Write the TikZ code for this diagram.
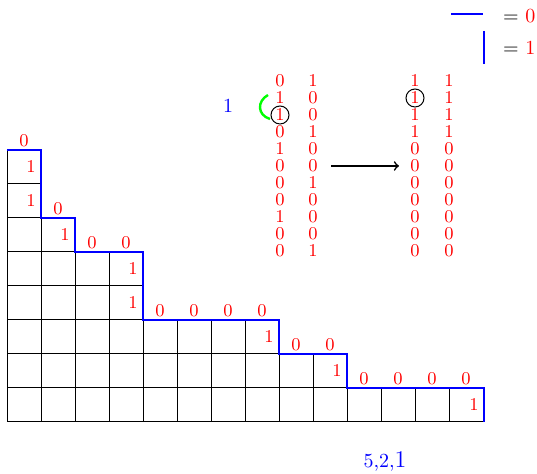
\documentclass[tikz,border=0pt]{standalone}
\begin{document}
\begin{tikzpicture}[x=0.5pt,y=-0.5pt,
  bit/.style={text=red,inner sep=0pt,font=\small},
  stair/.style={blue,line width=1.2pt},
  cell/.style={black,line width=0.5pt},
  ring/.style={black,line width=0.5pt}]
\useasboundingbox (0,0) rectangle (537,474);
% grid
\foreach \c/\h in {0/8,1/6,2/5,3/5,4/3,5/3,6/3,7/3,8/2,9/2,10/1,11/1,12/1,13/1}{
  \foreach \r in {1,...,\h}{
    \draw[cell] ({7+34*\c},{422-34*\r}) rectangle ++(34,34);
  }
}
% staircase path
\draw[stair] (7,150) -| (41,218) -| (75,252) -| (143,320) -| (279,354) -| (347,388) -| (484,422);
% zero labels on horizontal steps
\foreach \x/\y [count=\i] in {24/150,58/218,92/252,126/252,160/320,194/320,228/320,262/320,296/354,330/354,364/388,398/388,432/388,466/388}
  \node[bit,anchor=south] (z\i) at (\x,{\y-3}) {0};
% one labels on vertical steps
\foreach \x/\y [count=\i] in {41/167,41/201,75/235,143/269,143/303,279/337,347/371,484/405}
  \node[bit,anchor=east] (o\i) at ({\x-5},\y) {1};
% columns of bits
\foreach \v [count=\i from 0] in {0,1,1,0,1,0,0,0,1,0,0}
  \node[bit] (a\i) at (280,{81+17*\i}) {\v};
\foreach \v [count=\i from 0] in {1,0,0,1,0,0,1,0,0,0,1}
  \node[bit] (b\i) at (313,{81+17*\i}) {\v};
\foreach \v [count=\i from 0] in {1,1,1,1,0,0,0,0,0,0,0}
  \node[bit] (c\i) at (415,{81+17*\i}) {\v};
\foreach \v [count=\i from 0] in {1,1,1,1,0,0,0,0,0,0,0}
  \node[bit] (d\i) at (449,{81+17*\i}) {\v};
\draw[ring] (a2) circle (4.5pt);
\draw[ring] (c1) circle (4.5pt);
% green arc
\coordinate (g1) at (268,95);
\coordinate (g2) at (270,119);
\draw[green,line width=1.2pt] (g1) .. controls (257,101) and (257,115) .. (g2);
\node[text=blue,font=\normalsize] (one) at (228,106) {1};
% arrow
\coordinate (arrS) at (331,166);
\coordinate (arrE) at (399,166);
\draw[->,line width=0.8pt] (arrS) -- (arrE);
% partition label
\node[text=blue,anchor=base] (part) at (385,468) {5,2,{\large 1}};
% legend
\coordinate (h1) at (451,14);
\coordinate (h2) at (483,14);
\coordinate (v1) at (484,31);
\coordinate (v2) at (484,64);
\draw[stair] (h1) -- (h2);
\draw[stair] (v1) -- (v2);
\node[anchor=west] (l0) at (496,16) {$=$ \textcolor{red}{0}};
\node[anchor=west] (l1) at (496,48) {$=$ \textcolor{red}{1}};
\end{tikzpicture}
\end{document}
